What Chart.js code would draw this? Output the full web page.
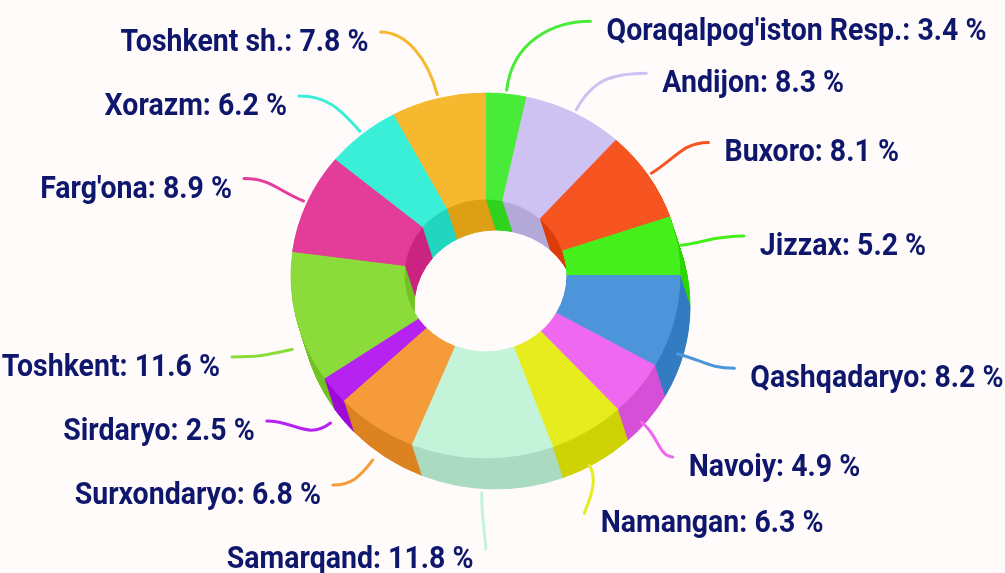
<!DOCTYPE html>
<html lang="uz">
<head>
<meta charset="UTF-8">
<title>Hududlar ulushi</title>
<script src="https://cdn.jsdelivr.net/npm/chart.js"></script>
<style>
  html, body { margin: 0; padding: 0; background: #fffbfb; }
  #wrap { width: 1005px; height: 573px; }
</style>
</head>
<body>
<div id="wrap"><canvas id="pie" width="1005" height="573"></canvas></div>
<script>
const regions = ["Qoraqalpog'iston Resp.", 'Andijon', 'Buxoro', 'Jizzax', 'Qashqadaryo', 'Navoiy', 'Namangan',
  'Samarqand', 'Surxondaryo', 'Sirdaryo', 'Toshkent', "Farg'ona", 'Xorazm', 'Toshkent sh.'];
const shares = [3.4, 8.3, 8.1, 5.2, 8.2, 4.9, 6.3, 11.8, 6.8, 2.5, 11.6, 8.9, 6.2, 7.8];

const sliceColors = ['#48ec38', '#cdc2f2', '#f65522', '#45ef1c', '#4c95da', '#ef69f0', '#e6ec1e',
  '#c3f4da', '#f59b3a', '#b623f0', '#8bdc3b', '#e33c99', '#3aefd8', '#f6b82e'];

// geometry of the fake 3d ring
const CX = 485.5, CY = 275.5, R = 194.5;
const TILT = 0.938;      // vertical squash of the top face
const DEPTH = 31;        // side height in px
const SHIFT_X = 10;      // the bottom face leans a bit to the right
// label layout
const LABEL_DIST = 60, LABEL_MIN_DX = 105;
const LABEL_UPPER = { cy: 280, r: 262 }, LABEL_LOWER = { cy: 261, r: 271 };
const BOX_RIGHT = 52, BOX_LEFT = 64;
const TEXT_SQUEEZE = 0.89;

function darker(hex, amt) {
  const n = parseInt(hex.slice(1), 16);
  const ch = [n >> 16, (n >> 8) & 255, n & 255].map(v => Math.max(0, v - amt));
  return 'rgb(' + ch.join(',') + ')';
}
const sideColors = sliceColors.map(c => darker(c, 25));

function tilt(ctx) {
  ctx.translate(0, CY);
  ctx.scale(1, TILT);
  ctx.translate(0, -CY);
}

const bgPlugin = {
  id: 'bg',
  beforeDraw(chart) {
    const ctx = chart.ctx;
    ctx.save();
    ctx.fillStyle = '#fffbfb';
    ctx.fillRect(0, 0, chart.width, chart.height);
    ctx.restore();
  }
};

// side walls: draw the same arcs again, pushed down layer by layer, in darker colours
const depthPlugin = {
  id: 'depth',
  beforeDatasetsDraw(chart) {
    const ctx = chart.ctx;
    const arcs = chart.getDatasetMeta(0).data;
    for (let k = DEPTH; k >= 1; k--) {
      ctx.save();
      ctx.translate(SHIFT_X * k / DEPTH, k);
      tilt(ctx);
      arcs.forEach((arc, i) => {
        const side = Object.assign(Object.create(Object.getPrototypeOf(arc)), arc);
        side.options = Object.assign({}, arc.options, { backgroundColor: sideColors[i], borderColor: sideColors[i] });
        side.draw(ctx);
      });
      ctx.restore();
    }
    ctx.save();
    tilt(ctx);
  },
  afterDatasetsDraw(chart) {
    chart.ctx.restore();
  }
};

// push overlapping labels apart (groups centred on their targets)
function spread(items, lo, hi, box) {
  items.sort((a, b) => a.target - b.target);
  let groups = items.map(it => ({ targets: [it.target], items: [it], size: box }));
  let solved = false;
  while (!solved) {
    groups.forEach(g => {
      const t = (Math.min(...g.targets) + Math.max(...g.targets)) / 2;
      g.pos = Math.min(Math.max(t - g.size / 2, lo - box / 2), hi + box / 2 - g.size);
    });
    solved = true;
    for (let i = groups.length - 1; i > 0; i--) {
      const a = groups[i - 1], b = groups[i];
      if (a.pos + a.size > b.pos + 0.01) {
        a.size += b.size;
        a.targets = a.targets.concat(b.targets);
        a.items = a.items.concat(b.items);
        groups.splice(i, 1);
        solved = false;
        break;
      }
    }
  }
  groups.forEach(g => g.items.forEach((it, j) => { it.y = g.pos + box * j + box / 2; }));
}

const labelPlugin = {
  id: 'sliceLabels',
  afterDraw(chart) {
    const ctx = chart.ctx;
    const arcs = chart.getDatasetMeta(0).data;
    const left = [], right = [];
    arcs.forEach((arc, i) => {
      const a = (arc.startAngle + arc.endAngle) / 2;
      const cos = Math.cos(a), sin = Math.sin(a);
      const drop = sin > 0 ? DEPTH : 0;
      const nl = Math.hypot(cos, sin * TILT);
      const ux = cos / nl, uy = sin * TILT / nl;
      const ex = arc.x + arc.outerRadius * cos;
      const ey = arc.y + arc.outerRadius * TILT * sin + drop;
      const item = {
        i, ux, uy,
        sx: ex + ux * 4, sy: ey + uy * 4,
        target: arc.y + (arc.outerRadius * TILT + LABEL_DIST) * sin + drop
      };
      (cos >= 0 ? right : left).push(item);
    });
    spread(right, 19, 549, BOX_RIGHT);
    spread(left, 19, 549, BOX_LEFT);

    ctx.save();
    [[right, 1], [left, -1]].forEach(([side, dir]) => {
      side.forEach(it => {
        const circ = it.y < LABEL_UPPER.cy ? LABEL_UPPER : LABEL_LOWER;
        const dy = it.y - circ.cy;
        let d = Math.sqrt(Math.max(0, circ.r * circ.r - dy * dy));
        if (it.y < LABEL_UPPER.cy) d = Math.max(d, LABEL_MIN_DX);
        const lx = CX + dir * d, ly = it.y;
        const len = Math.hypot(lx - it.sx, ly - it.sy);
        const k = 0.45 * len;

        ctx.beginPath();
        ctx.moveTo(lx, ly);
        ctx.bezierCurveTo(lx - dir * 0.45 * Math.abs(lx - it.sx), ly,
          it.sx + it.ux * k, it.sy + it.uy * k, it.sx, it.sy);
        ctx.strokeStyle = sliceColors[it.i];
        ctx.lineWidth = 3;
        ctx.lineCap = 'round';
        ctx.stroke();

        const text = regions[it.i] + ': ' + shares[it.i].toFixed(1) + ' %';
        ctx.save();
        ctx.translate(lx + dir * (dir > 0 ? 16 : 12), ly + 19);
        ctx.scale(TEXT_SQUEEZE, 1);
        ctx.font = 'bold 32px Roboto';
        ctx.fillStyle = '#0f176c';
        ctx.textAlign = dir > 0 ? 'left' : 'right';
        ctx.textBaseline = 'alphabetic';
        ctx.fillText(text, 0, 0);
        ctx.restore();
      });
    });
    ctx.restore();
  }
};

new Chart(document.getElementById('pie'), {
  type: 'doughnut',
  data: {
    labels: regions,
    datasets: [{
      data: shares,
      backgroundColor: sliceColors,
      borderColor: sliceColors,
      borderWidth: 1,
      clip: false
    }]
  },
  options: {
    responsive: false,
    animation: false,
    events: [],
    radius: R,
    cutout: '41.9%',
    layout: { padding: { left: 0, right: 1005 - 2 * CX, top: 0, bottom: 573 - 2 * CY } },
    plugins: {
      legend: { display: false },
      tooltip: { enabled: false }
    }
  },
  plugins: [bgPlugin, depthPlugin, labelPlugin]
});
</script>
</body>
</html>
